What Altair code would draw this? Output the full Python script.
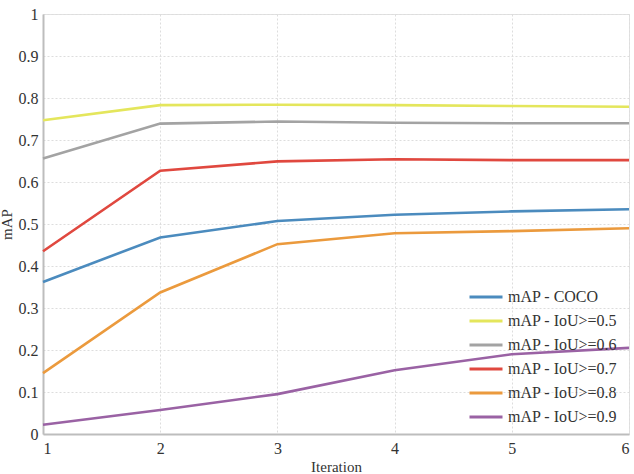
import altair as alt
import pandas as pd

iterations = [1, 2, 3, 4, 5, 6]
series_names = [
    "mAP - COCO",
    "mAP - IoU>=0.5",
    "mAP - IoU>=0.6",
    "mAP - IoU>=0.7",
    "mAP - IoU>=0.8",
    "mAP - IoU>=0.9",
]
map_coco = [0.362, 0.468, 0.507, 0.522, 0.530, 0.535]
map_iou50 = [0.747, 0.783, 0.784, 0.783, 0.781, 0.779]
map_iou60 = [0.656, 0.739, 0.744, 0.741, 0.740, 0.740]
map_iou70 = [0.435, 0.627, 0.649, 0.654, 0.652, 0.652]
map_iou80 = [0.145, 0.337, 0.452, 0.478, 0.483, 0.490]
map_iou90 = [0.022, 0.057, 0.095, 0.152, 0.190, 0.205]
colors = ["#4b8bbe", "#e4e65c", "#a3a3a3", "#e0483f", "#eb9a3d", "#9a62a4"]

all_values = [map_coco, map_iou50, map_iou60, map_iou70, map_iou80, map_iou90]
rows = []
for name, vals in zip(series_names, all_values):
    for it, v in zip(iterations, vals):
        rows.append({"Iteration": it, "mAP": v, "series": name})
df = pd.DataFrame(rows)

font = "Liberation Serif"

chart = (
    alt.Chart(df)
    .mark_line(strokeWidth=2.6)
    .encode(
        x=alt.X(
            "Iteration:Q",
            scale=alt.Scale(domain=[1, 6], nice=False),
            axis=alt.Axis(
                values=iterations,
                format="d",
                title="Iteration",
                titlePadding=3,
                labelPadding=6,
            ),
        ),
        y=alt.Y(
            "mAP:Q",
            scale=alt.Scale(domain=[0, 1], nice=False),
            axis=alt.Axis(
                values=[0, 0.1, 0.2, 0.3, 0.4, 0.5, 0.6, 0.7, 0.8, 0.9, 1],
                labelExpr="datum.value == 0 ? '0' : datum.value == 1 ? '1' : format(datum.value, '.1f')",
                title="mAP",
                titlePadding=4,
                labelPadding=5,
            ),
        ),
        color=alt.Color(
            "series:N",
            scale=alt.Scale(domain=series_names, range=colors),
            sort=series_names,
            legend=alt.Legend(
                title=None,
                orient="none",
                legendX=425,
                legendY=271,
                padding=0,
                symbolType="stroke",
                symbolSize=1089,
                symbolStrokeWidth=3,
                labelFont=font,
                labelFontSize=16,
                labelColor="#333333",
                rowPadding=0,
                clipHeight=24,
                labelOffset=4,
            ),
        ),
    )
    .properties(
        width=586,
        height=420,
        padding={"left": 43, "top": 14, "right": 5, "bottom": 40},
        autosize=alt.AutoSizeParams(type="none"),
        background="white",
    )
    .configure_view(stroke="#e2e2e2", strokeWidth=1)
    .configure_axis(
        labelFont=font,
        titleFont=font,
        labelFontSize=16,
        titleFontSize=15,
        titleFontWeight="normal",
        labelColor="#333333",
        titleColor="#333333",
        domainColor="#bdbdbd",
        domainWidth=2,
        gridColor="#dddddd",
        gridDash=[2, 2],
        gridWidth=1,
        ticks=False,
    )
)

chart.save("out.html", embed_options={"renderer": "svg", "actions": False})
